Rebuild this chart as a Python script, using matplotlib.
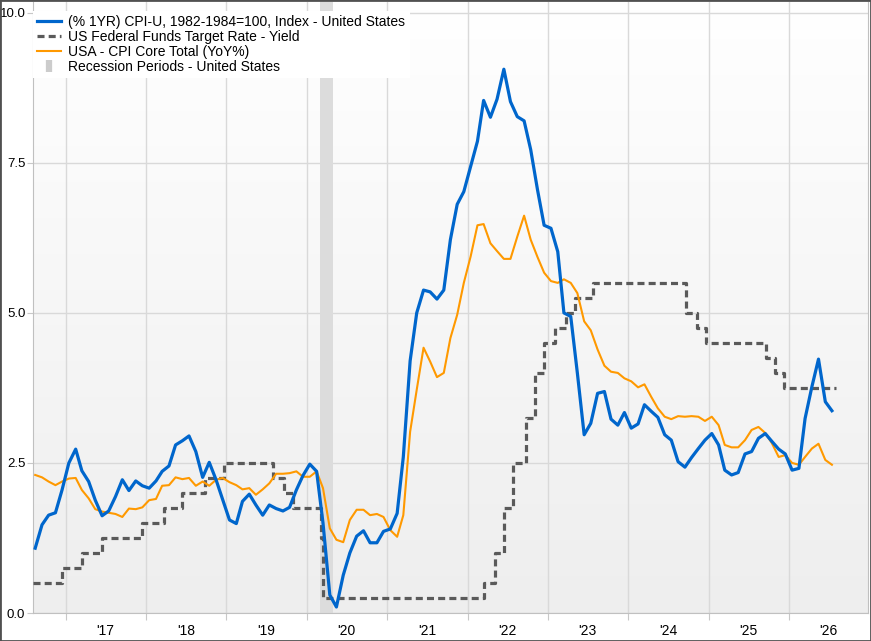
import numpy as np
import pandas as pd
import matplotlib
matplotlib.use("Agg")
import matplotlib.pyplot as plt
import matplotlib.dates as mdates
from matplotlib.lines import Line2D
from matplotlib.patches import Rectangle

plt.rcParams['font.family'] = ['Liberation Sans', 'DejaVu Sans']

# monthly readings, Aug 2016 .. Jul 2026
months = pd.date_range('2016-08-01', periods=120, freq='MS') + pd.Timedelta(days=14)

cpi = [1.08, 1.47, 1.63, 1.67, 2.05,
       2.50, 2.73, 2.37, 2.19, 1.88, 1.62, 1.70, 1.94, 2.22, 2.04, 2.20, 2.12,
       2.08, 2.20, 2.36, 2.45, 2.80, 2.87, 2.95, 2.69, 2.26, 2.51, 2.22, 1.89,
       1.55, 1.49, 1.86, 1.98, 1.80, 1.63, 1.80, 1.74, 1.70, 1.76, 2.05, 2.29,
       2.48, 2.36, 1.50, 0.30, 0.10, 0.63, 1.00, 1.28, 1.37, 1.17, 1.17, 1.36,
       1.40, 1.66, 2.60, 4.20, 5.00, 5.38, 5.35, 5.23, 5.38, 6.22, 6.81, 7.02,
       7.44, 7.86, 8.54, 8.26, 8.56, 9.06, 8.52, 8.27, 8.20, 7.72, 7.05, 6.46,
       6.41, 6.02, 5.00, 4.94, 4.00, 2.97, 3.16, 3.66, 3.69, 3.23, 3.13, 3.34,
       3.08, 3.15, 3.47, 3.36, 3.26, 2.97, 2.88, 2.52, 2.43, 2.59, 2.74, 2.88,
       2.99, 2.80, 2.38, 2.30, 2.34, 2.65, 2.69, 2.91, 2.99, 2.86, 2.73, 2.65,
       2.38, 2.41, 3.24, 3.77, 4.23, 3.52, 3.37]

core = [2.30, 2.26, 2.19, 2.13, 2.19,
        2.24, 2.25, 2.05, 1.91, 1.73, 1.69, 1.67, 1.65, 1.60, 1.74, 1.73, 1.76,
        1.88, 1.90, 2.12, 2.13, 2.26, 2.23, 2.25, 2.12, 2.19, 2.12, 2.22, 2.25,
        2.18, 2.13, 2.06, 2.08, 1.97, 2.06, 2.16, 2.32, 2.32, 2.33, 2.36, 2.27,
        2.27, 2.36, 2.08, 1.41, 1.22, 1.18, 1.55, 1.72, 1.72, 1.63, 1.65, 1.60,
        1.38, 1.27, 1.63, 3.02, 3.72, 4.42, 4.19, 3.93, 4.00, 4.58, 4.97, 5.50,
        5.94, 6.46, 6.48, 6.16, 6.03, 5.90, 5.90, 6.27, 6.62, 6.22, 5.93, 5.67,
        5.53, 5.50, 5.56, 5.50, 5.33, 4.86, 4.71, 4.39, 4.12, 4.02, 4.00, 3.91,
        3.86, 3.76, 3.81, 3.60, 3.41, 3.27, 3.23, 3.28, 3.27, 3.28, 3.27, 3.20,
        3.27, 3.13, 2.80, 2.76, 2.76, 2.88, 3.05, 3.10, 3.00, 2.83, 2.60, 2.63,
        2.50, 2.47, 2.60, 2.74, 2.82, 2.55, 2.47]

# fed funds target (upper bound), changes
fed_dates = pd.to_datetime([
    '2016-08-05', '2016-12-15', '2017-03-16', '2017-06-15', '2017-12-14',
    '2018-03-22', '2018-06-14', '2018-09-27', '2018-12-20', '2019-08-01',
    '2019-09-19', '2019-10-31', '2020-03-04', '2020-03-16', '2022-03-17',
    '2022-05-05', '2022-06-16', '2022-07-28', '2022-09-22', '2022-11-03',
    '2022-12-15', '2023-02-02', '2023-03-23', '2023-05-04', '2023-07-27',
    '2024-09-19', '2024-11-08', '2024-12-19', '2025-09-18', '2025-10-30',
    '2025-12-11', '2026-08-04'])
fed_rate = [0.50, 0.75, 1.00, 1.25, 1.50,
            1.75, 2.00, 2.25, 2.50, 2.25,
            2.00, 1.75, 1.25, 0.25, 0.50,
            1.00, 1.75, 2.50, 3.25, 4.00,
            4.50, 4.75, 5.00, 5.25, 5.50,
            5.00, 4.75, 4.50, 4.25, 4.00,
            3.75, 3.75]

recession = (pd.Timestamp('2020-03-01'), pd.Timestamp('2020-05-01'))

labels = ['(% 1YR) CPI-U, 1982-1984=100, Index - United States',
          'US Federal Funds Target Rate - Yield',
          'USA - CPI Core Total (YoY%)',
          'Recession Periods - United States']

blue = '#0066cc'
orange = '#ff9900'
gray = '#5a5a5a'
rec_color = '#dcdcdc'

fig = plt.figure(figsize=(8.71, 6.41), dpi=100)
ax = fig.add_axes([33 / 871, 1 - 613 / 641, (868 - 33) / 871, (613 - 2) / 641])

# background gradient
grad = np.linspace(1, 0, 256).reshape(-1, 1)
ax.imshow(grad, cmap=matplotlib.colors.LinearSegmentedColormap.from_list(
    'bg', ['#eeeeee', '#ffffff']), extent=[0, 1, 0, 1],
    transform=ax.transAxes, aspect='auto', zorder=0)

ax.axvspan(recession[0], recession[1], color=rec_color, zorder=1, lw=0)

ax.step(fed_dates, fed_rate, where='post', color=gray, lw=2.3,
        ls=(0, (2.2, 1.3)), zorder=3)
ax.plot(months, core, color=orange, lw=1.5, zorder=4)
ax.plot(months, cpi, color=blue, lw=2.3, zorder=5)

ax.set_xlim(pd.Timestamp('2016-08-05'), pd.Timestamp('2026-12-26'))
ax.set_ylim(0, 10.18)

ax.set_yticks([0, 2.5, 5.0, 7.5, 10.0])
ax.set_yticklabels(['0.0', '2.5', '5.0', '7.5', '10.0'])

ax.xaxis.set_major_locator(mdates.YearLocator(1, month=1, day=1))
ax.xaxis.set_major_formatter(matplotlib.ticker.NullFormatter())
ax.xaxis.set_minor_locator(mdates.YearLocator(1, month=7, day=1))
ax.xaxis.set_minor_formatter(mdates.DateFormatter("'%y"))

ax.grid(True, which='major', color='#d9d9d9', lw=1)
ax.set_axisbelow(True)
ax.tick_params(axis='x', which='major', color='#c8c8c8', length=5)
ax.tick_params(axis='y', which='major', color='#c8c8c8', length=4,
               labelsize=9.5, labelcolor='black', pad=1.5)
ax.tick_params(axis='x', which='minor', length=0, labelsize=10, pad=8)

for s in ['left', 'bottom', 'right']:
    ax.spines[s].set_color('#c0c0c0')
ax.spines['top'].set_visible(False)

handles = [Line2D([], [], color=blue, lw=2.3),
           Line2D([], [], color=gray, lw=2.3, ls=(0, (2.2, 1.3))),
           Line2D([], [], color=orange, lw=1.5),
           Line2D([], [], ls='none', marker='|', ms=9, mew=4.5, color='#cccccc')]
leg = ax.legend(handles, labels, loc='upper left', bbox_to_anchor=(0, 0.985),
                fontsize=10, frameon=True, fancybox=False, framealpha=1,
                facecolor='white', edgecolor='none', borderaxespad=0,
                borderpad=0.3, labelspacing=0.07, handlelength=1.7,
                handletextpad=0.55)
leg.set_zorder(10)

fig.patches.append(Rectangle((0, 0), 1, 1, transform=fig.transFigure,
                             fill=False, edgecolor='#505050', lw=2))

fig.savefig('out.png', dpi=100)
